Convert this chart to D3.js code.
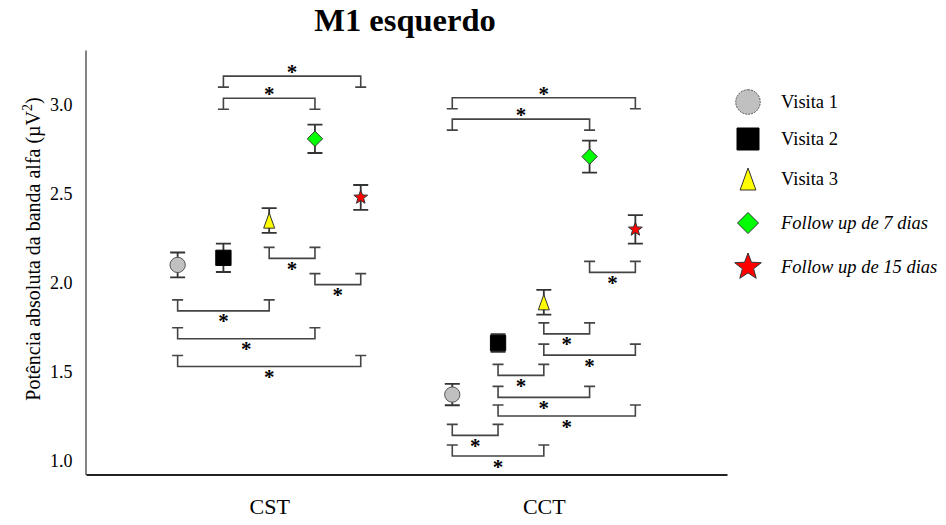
<!DOCTYPE html>
<html>
<head>
<meta charset="utf-8">
<script src="https://cdn.jsdelivr.net/npm/d3@7"></script>
<style>
  html, body { margin: 0; padding: 0; background: #fff; }
  svg { display: block; }
  text { font-family: "Liberation Serif", "Times New Roman", serif; fill: #000; }
</style>
</head>
<body>
<svg id="chart" width="946" height="525"></svg>
<script>
// ---------- DATA ----------
const groups = ["CST", "CCT"];
const series = ["Visita 1", "Visita 2", "Visita 3", "Follow up de 7 dias", "Follow up de 15 dias"];
const seriesItalic = [false, false, false, true, true];
const meansCST = [2.10, 2.14, 2.35, 2.81, 2.48];
const errCST   = [0.07, 0.08, 0.07, 0.08, 0.07];
const meansCCT = [1.37, 1.66, 1.89, 2.71, 2.30];
const errCCT   = [0.06, 0.05, 0.07, 0.09, 0.08];
const yTicks = [1.0, 1.5, 2.0, 2.5, 3.0];
// significance brackets: from series index, to series index, level (µV²), side
const bracketsCST = [
  [1, 4, 3.163, "above"], [1, 3, 3.038, "above"],
  [2, 3, 2.137, "below"], [3, 4, 1.989, "below"],
  [0, 2, 1.841, "below"], [0, 3, 1.684, "below"], [0, 4, 1.528, "below"]
];
const bracketsCCT = [
  [0, 4, 3.041, "above"], [0, 3, 2.921, "above"],
  [3, 4, 2.058, "below"], [2, 3, 1.712, "below"], [2, 4, 1.592, "below"],
  [1, 2, 1.478, "below"], [1, 3, 1.354, "below"], [1, 4, 1.249, "below"],
  [0, 1, 1.140, "below"], [0, 2, 1.024, "below"]
];

// ---------- STYLE ----------
const shapes = ["circle", "square", "triangle", "diamond", "star"];
const fills = ["#c0c0c0", "#000000", "#ffff00", "#00ff00", "#ff0000"];
const strokes = ["#555555", "#000000", "#333333", "#333333", "#333333"];

const svg = d3.select("#chart");
const x = d3.scalePoint().domain(groups).range([86, 727]).padding(0.667);
const step = x.step();
const off = d3.scalePoint().domain(d3.range(series.length)).range([-step / 3, step / 3]);
const y = d3.scaleLinear().domain([0.92, 3.31]).range([474.5, 50]);

function shapePath(type, s) {
  const h = s / 2;
  switch (type) {
    case "square": return `M${-h},${-h}H${h}V${h}H${-h}Z`;
    case "triangle": return `M0,${-h}L${h * 0.72},${h}L${-h * 0.72},${h}Z`;
    case "diamond": return `M0,${-h}L${h},0L0,${h}L${-h},0Z`;
    case "star": {
      const r = h, ri = r * 0.42;
      let p = "";
      for (let i = 0; i < 10; i++) {
        const a = -Math.PI / 2 + i * Math.PI / 5;
        const rr = i % 2 === 0 ? r : ri;
        p += (i === 0 ? "M" : "L") + (rr * Math.cos(a)).toFixed(2) + "," + (rr * Math.sin(a)).toFixed(2);
      }
      return p + "Z";
    }
    default: return d3.arc()({innerRadius: 0, outerRadius: h, startAngle: 0, endAngle: 2 * Math.PI});
  }
}

// ---------- AXES ----------
const yAxis = svg.append("g").attr("transform", "translate(85.5,0)")
  .call(d3.axisLeft(y).tickValues(yTicks).tickFormat(d3.format(".1f")).tickSize(0).tickPadding(13));
yAxis.select(".domain").attr("stroke", "#666").attr("stroke-width", 1.6);
yAxis.selectAll("text").style("font-family", "Liberation Serif").style("font-size", "18px").attr("fill", "#000");

const xAxis = svg.append("g").attr("transform", "translate(0,474.5)")
  .call(d3.axisBottom(x).tickSize(0).tickSizeOuter(0).tickPadding(24));
xAxis.select(".domain").attr("stroke", "#222").attr("stroke-width", 2);
xAxis.selectAll("text").style("font-family", "Liberation Serif").style("font-size", "22px").attr("fill", "#000");

// title
svg.append("text").attr("x", 405).attr("y", 31).attr("text-anchor", "middle")
  .style("font-size", "32.5px").style("font-weight", "bold").text("M1 esquerdo");

// y label
const yl = svg.append("text").attr("transform", "translate(40,249) rotate(-90)")
  .attr("text-anchor", "middle").style("font-size", "20px");
yl.append("tspan").text("Potência absoluta da banda alfa (µV");
yl.append("tspan").attr("dy", "-8").style("font-size", "14px").text("2");
yl.append("tspan").attr("dy", "8").text(")");

// ---------- BRACKETS ----------
const legLen = 11, capW = 11;
function drawBrackets(gName, list) {
  const g = svg.append("g").attr("fill", "none").attr("stroke", "#444").attr("stroke-width", 1.6);
  list.forEach(([a, b, lvl, side]) => {
    const x1 = x(gName) + off(a), x2 = x(gName) + off(b), yy = y(lvl);
    const dir = side === "above" ? 1 : -1;
    const ye = yy + dir * legLen;
    g.append("path").attr("d",
      `M${x1},${ye}V${yy}H${x2}V${ye}` +
      `M${x1 - capW / 2},${ye}H${x1 + capW / 2}` +
      `M${x2 - capW / 2},${ye}H${x2 + capW / 2}`);
    const cy = side === "above" ? yy - 7 : yy + 7.5;
    svg.append("text").attr("x", (x1 + x2) / 2).attr("y", cy + 10)
      .attr("text-anchor", "middle").style("font-size", "21px").style("font-weight", "bold").text("*");
  });
}
drawBrackets("CST", bracketsCST);
drawBrackets("CCT", bracketsCCT);

// ---------- POINTS ----------
function drawGroup(gName, means, errs) {
  means.forEach((m, i) => {
    const cx = x(gName) + off(i);
    const g = svg.append("g");
    g.append("path").attr("fill", "none").attr("stroke", "#333").attr("stroke-width", 1.8)
      .attr("d", `M${cx},${y(m + errs[i])}V${y(m - errs[i])}` +
        `M${cx - 7.5},${y(m + errs[i])}H${cx + 7.5}` +
        `M${cx - 7.5},${y(m - errs[i])}H${cx + 7.5}`);
    const sz = shapes[i] === "star" ? 14.5 : 15.3;
    g.append("path").attr("transform", `translate(${cx},${y(m)})`)
      .attr("d", shapePath(shapes[i], sz)).attr("fill", fills[i])
      .attr("stroke", strokes[i]).attr("stroke-width", 1);
  });
}
drawGroup("CST", meansCST, errCST);
drawGroup("CCT", meansCCT, errCCT);

// ---------- LEGEND ----------
const legendY = [102, 139, 179, 223, 267];
const legendSize = [24.5, 22, 22, 21, 28];
series.forEach((s, i) => {
  svg.append("path").attr("transform", `translate(748,${legendY[i]})`)
    .attr("d", shapePath(shapes[i], legendSize[i])).attr("fill", fills[i])
    .attr("stroke", strokes[i]).attr("stroke-width", 1)
    .attr("stroke-dasharray", i === 0 ? "2,1" : null);
  svg.append("text").attr("x", 781).attr("y", legendY[i] + 6)
    .style("font-size", "18.5px").style("font-style", seriesItalic[i] ? "italic" : "normal").text(s);
});
</script>
</body>
</html>
